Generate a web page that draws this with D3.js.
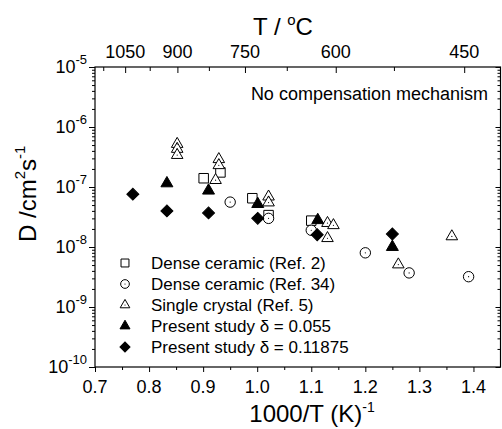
<!DOCTYPE html>
<html>
<head>
<meta charset="utf-8">
<script src="https://cdn.jsdelivr.net/npm/d3@7"></script>
<style>
  body { margin: 0; background: #fff; }
  text { font-family: "Liberation Sans", Arial, sans-serif; fill: #000; }
</style>
</head>
<body>
<div class="canvas"></div>
<script>
// data: x = 1000/T (1/K), D in cm^2/s
var ref2X = [0.901, 0.932, 0.991, 1.021, 1.100];
var ref2D = [1.4e-7, 1.75e-7, 6.5e-8, 3.4e-8, 2.75e-8];

var ref34X = [0.950, 1.021, 1.100, 1.200, 1.281, 1.391];
var ref34D = [5.6e-8, 3.0e-8, 1.9e-8, 8.0e-9, 3.7e-9, 3.2e-9];

var crystalX = [0.852, 0.852, 0.852, 0.929, 0.929, 0.923, 1.021, 1.021, 1.130, 1.141, 1.130, 1.261, 1.360];
var crystalD = [5.2e-7, 4.3e-7, 3.4e-7, 2.9e-7, 2.3e-7, 1.3e-7, 6.9e-8, 5.5e-8, 2.5e-8, 2.3e-8, 1.4e-8, 5.1e-9, 1.5e-8];

var lowDeltaX = [0.833, 0.910, 1.001, 1.112, 1.250];
var lowDeltaD = [1.15e-7, 8.7e-8, 5.2e-8, 2.8e-8, 1.0e-8];

var highDeltaX = [0.770, 0.833, 0.910, 1.001, 1.111, 1.250];
var highDeltaD = [7.6e-8, 4.0e-8, 3.7e-8, 3.0e-8, 1.6e-8, 1.65e-8];

var legendLabels = ["Dense ceramic (Ref. 2)", "Dense ceramic (Ref. 34)", "Single crystal (Ref. 5)",
                    "Present study \u03b4 = 0.055", "Present study \u03b4 = 0.11875"];

var xTicks = [0.7, 0.8, 0.9, 1.0, 1.1, 1.2, 1.3, 1.4];
var tempTicks = [1050, 900, 750, 600, 450];          // top axis, deg C
var tempMinor = [1125, 975, 825, 675, 525];
var decades = [-10, -9, -8, -7, -6, -5];

var W = 502, H = 429;
var plot = {left: 95, right: 500.5, top: 67, bottom: 367};

var svg = d3.select(".canvas")
  .append("svg")
  .attr("width", W)
  .attr("height", H)
  .style("display", "block");

var x = d3.scaleLinear().domain([0.7, 1.45]).range([plot.left, plot.right]);
var y = d3.scaleLog().domain([1e-10, 1e-5]).range([plot.bottom, plot.top]);

// frame
svg.append("rect")
  .attr("x", plot.left).attr("y", plot.top)
  .attr("width", plot.right - plot.left).attr("height", plot.bottom - plot.top)
  .attr("fill", "none").attr("stroke", "#000").attr("stroke-width", 1.2);

function plain(g) {
  g.select(".domain").remove();
  g.selectAll("line").attr("stroke", "#000").attr("stroke-width", 1);
  g.selectAll("text").remove();
}

// bottom axis
var xMinor = d3.range(0.75, 1.45, 0.1);
svg.append("g").attr("transform", `translate(0,${plot.bottom})`)
  .call(d3.axisBottom(x).tickValues(xTicks).tickSize(5)).call(plain);
svg.append("g").attr("transform", `translate(0,${plot.bottom})`)
  .call(d3.axisBottom(x).tickValues(xMinor).tickSize(3)).call(plain);
svg.append("g").selectAll("text")
  .data(xTicks).enter().append("text")
    .attr("x", d => x(d))
    .attr("y", 393)
    .attr("text-anchor", "middle")
    .style("font-size", "18px")
    .text(d => d.toFixed(1));

// top axis: temperature in deg C
var tx = t => x(1000 / (t + 273.15));
svg.append("g").attr("transform", `translate(0,${plot.top})`)
  .call(d3.axisTop(d3.scaleIdentity()).tickValues(tempTicks.map(tx)).tickSize(-6)).call(plain);
svg.append("g").attr("transform", `translate(0,${plot.top})`)
  .call(d3.axisTop(d3.scaleIdentity()).tickValues(tempMinor.map(tx)).tickSize(-4)).call(plain);
svg.append("g").selectAll("text")
  .data(tempTicks).enter().append("text")
    .attr("x", d => tx(d))
    .attr("y", 58)
    .attr("text-anchor", "middle")
    .style("font-size", "18px")
    .text(d => d);

// y axes (log)
var yMajor = decades.map(k => Math.pow(10, k));
var yMinor = [];
decades.slice(0, -1).forEach(k => d3.range(2, 10).forEach(m => yMinor.push(m * Math.pow(10, k))));

svg.append("g").attr("transform", `translate(${plot.left},0)`)
  .call(d3.axisLeft(y).tickValues(yMajor).tickSize(6)).call(plain);
svg.append("g").attr("transform", `translate(${plot.left},0)`)
  .call(d3.axisLeft(y).tickValues(yMinor).tickSize(3)).call(plain);
svg.append("g").attr("transform", `translate(${plot.right},0)`)
  .call(d3.axisLeft(y).tickValues(yMajor).tickSize(5)).call(plain);
svg.append("g").attr("transform", `translate(${plot.right},0)`)
  .call(d3.axisLeft(y).tickValues(yMinor).tickSize(3)).call(plain);

var yLab = svg.append("g").selectAll("text")
  .data(decades).enter().append("text")
    .attr("x", 87)
    .attr("y", d => y(Math.pow(10, d)) + 6)
    .attr("text-anchor", "end")
    .style("font-size", "18px");
yLab.append("tspan").text("10");
yLab.append("tspan").attr("dy", -9).style("font-size", "13px").text(d => d);

// axis titles
var tt = svg.append("text").attr("x", 283).attr("y", 35)
  .attr("text-anchor", "middle").style("font-size", "24px");
tt.append("tspan").text("T / ");
tt.append("tspan").attr("dy", -10).style("font-size", "15px").text("o");
tt.append("tspan").attr("dy", 10).text("C");

var xt = svg.append("text").attr("x", 312).attr("y", 422)
  .attr("text-anchor", "middle").style("font-size", "24px");
xt.append("tspan").text("1000/T (K)");
xt.append("tspan").attr("dy", -10).style("font-size", "14px").text("-1");

var yt = svg.append("text").attr("transform", "translate(36,242) rotate(-90)")
  .style("font-size", "24px");
yt.append("tspan").text("D /cm");
yt.append("tspan").attr("dy", -11).style("font-size", "15px").text("2");
yt.append("tspan").attr("dy", 11).text("s");
yt.append("tspan").attr("dy", -11).style("font-size", "15px").text("-1");

svg.append("text").attr("x", 488).attr("y", 100)
  .attr("text-anchor", "end").style("font-size", "18px")
  .text("No compensation mechanism");

// markers
var series = [
  {xs: ref2X, ds: ref2D, shape: d3.symbolSquare, size: 90, fill: "#fff", rot: 0, dot: false},
  {xs: ref34X, ds: ref34D, shape: d3.symbolCircle, size: 85, fill: "#fff", rot: 0, dot: true},
  {xs: crystalX, ds: crystalD, shape: d3.symbolTriangle, size: 58, fill: "#fff", rot: 0, dot: true},
  {xs: lowDeltaX, ds: lowDeltaD, shape: d3.symbolTriangle, size: 62, fill: "#000", rot: 0, dot: false},
  {xs: highDeltaX, ds: highDeltaD, shape: d3.symbolSquare, size: 72, fill: "#000", rot: 45, dot: false}
];

series.forEach(function(s) {
  var g = svg.append("g");
  var pts = s.xs.map((v, i) => [v, s.ds[i]]);
  g.selectAll("path").data(pts).enter().append("path")
    .attr("d", d3.symbol().type(s.shape).size(s.size))
    .attr("transform", d => `translate(${x(d[0])},${y(d[1])}) rotate(${s.rot})`)
    .attr("fill", s.fill)
    .attr("stroke", "#000")
    .attr("stroke-width", 1);
  if (s.dot) {
    g.selectAll("circle").data(pts).enter().append("circle")
      .attr("cx", d => x(d[0])).attr("cy", d => y(d[1]))
      .attr("r", 0.6).attr("fill", "#000");
  }
});

// legend
var legY = [263, 284, 305, 326, 347];
var leg = svg.append("g").selectAll("g")
  .data(series).enter().append("g")
    .attr("transform", (d, i) => `translate(125,${legY[i]})`);
leg.append("path")
  .attr("d", d => d3.symbol().type(d.shape).size(d.size * 0.7)())
  .attr("transform", d => `rotate(${d.rot})`)
  .attr("fill", d => d.fill)
  .attr("stroke", "#000")
  .attr("stroke-width", 1);
leg.filter(d => d.dot).append("circle").attr("r", 0.6).attr("fill", "#000");
leg.append("text")
  .attr("x", 26)
  .attr("dy", "0.36em")
  .style("font-size", "17px")
  .text((d, i) => legendLabels[i]);
</script>
</body>
</html>
